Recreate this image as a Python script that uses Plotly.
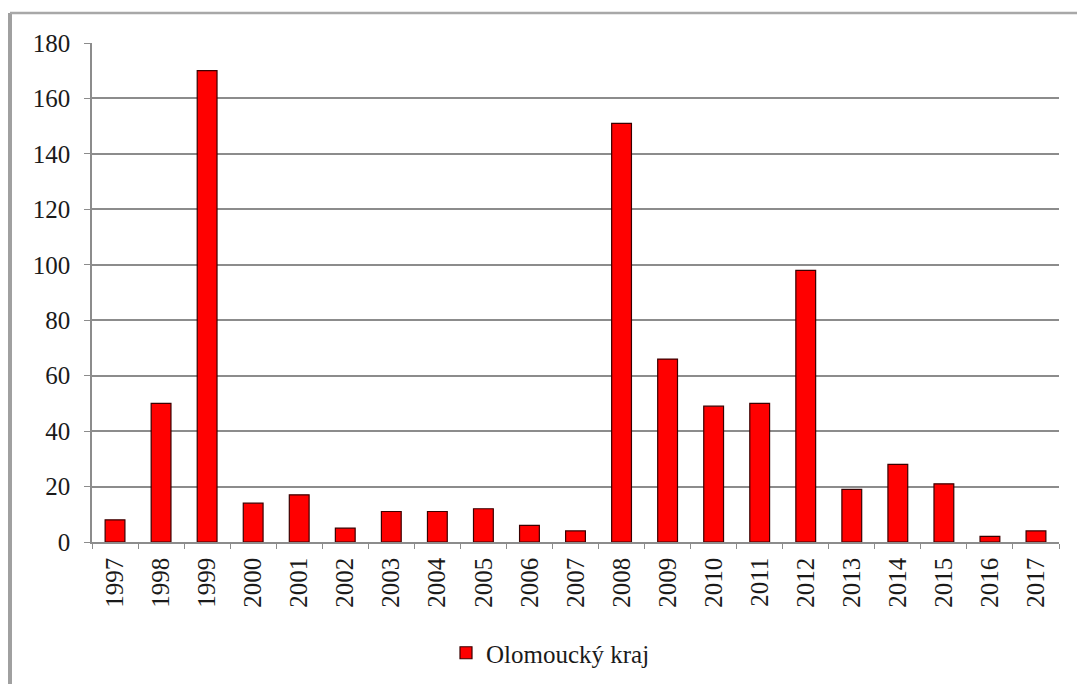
import plotly.graph_objects as go

years = [str(y) for y in range(1997, 2018)]
values = [8, 50, 170, 14, 17, 5, 11, 11, 12, 6, 4, 151, 66, 49, 50, 98, 19, 28, 21, 2, 4]
series_name = "Olomoucký kraj"
y_ticks = [0, 20, 40, 60, 80, 100, 120, 140, 160, 180]

W, H = 1077, 684
L, R, T, B = 92, 18, 43, 142
pw, ph = W - L - R, H - T - B

fig = go.Figure()
fig.add_trace(go.Bar(
    x=years, y=values, name=series_name,
    marker=dict(color="#ff0000", line=dict(color="#3a0000", width=1.2)),
    width=0.43,
    showlegend=True,
))

# outer frame (only left and top edges visible in the crop)
fx0 = (10 - L) / pw
fy1 = (H - B - 13) / ph
fig.add_shape(type="line", xref="paper", yref="paper", x0=fx0, x1=fx0, y0=-1, y1=fy1,
              line=dict(color="#a0a0a0", width=4))
fig.add_shape(type="line", xref="paper", yref="paper", x0=fx0, x1=2, y0=fy1, y1=fy1,
              line=dict(color="#a8a8a8", width=2.5))

serif = "Liberation Serif, Times New Roman, serif"
font = dict(family=serif, size=25, color="#1a1a1a")

fig.update_layout(
    width=W, height=H,
    margin=dict(l=L, r=R, t=T, b=B, autoexpand=False),
    paper_bgcolor="white", plot_bgcolor="white",
    font=font,
    bargap=0.57,
    xaxis=dict(
        type="category", tickangle=-90, showgrid=False, automargin=False,
        showline=True, linecolor="#8c8c8c", linewidth=1.5,
        ticks="outside", tickson="boundaries", ticklen=5, tickcolor="#8c8c8c",
        ticklabelstandoff=4,
    ),
    yaxis=dict(
        range=[0, 180], tickvals=y_ticks, showgrid=True, gridcolor="#8c8c8c", gridwidth=1.5,
        showline=True, linecolor="#8c8c8c", linewidth=1.5, automargin=False,
        ticks="outside", ticklen=6, tickcolor="#8c8c8c",
        ticklabelstandoff=9, zeroline=False,
    ),
    legend=dict(orientation="h", x=0.5 - 25 / pw, xanchor="center", y=(H - B - 653) / ph,
                yanchor="middle", font=dict(family=serif, size=25, color="#1a1a1a"), itemwidth=30),
)

fig.write_html("out.html", config={"displayModeBar": False},
               post_script="document.body.style.margin='0';")
